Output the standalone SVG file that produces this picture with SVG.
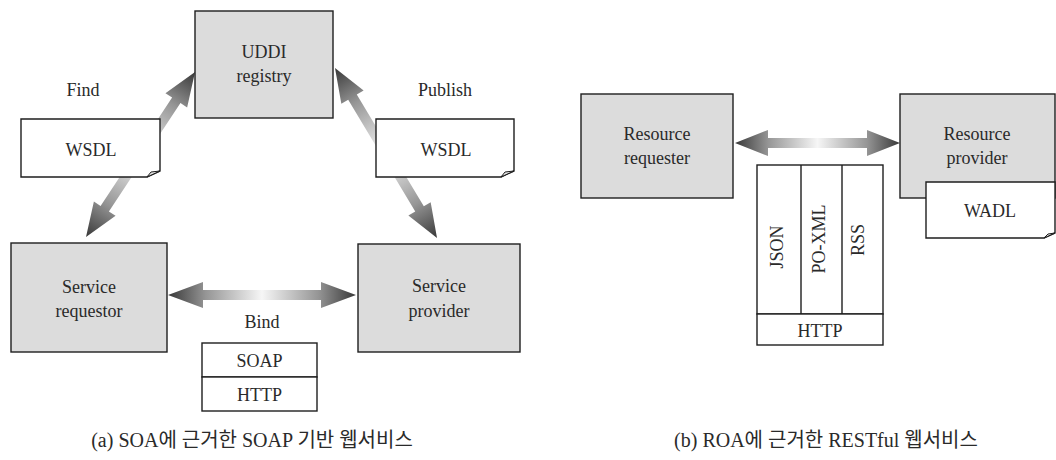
<svg xmlns="http://www.w3.org/2000/svg" width="1056" height="460" viewBox="0 0 1056 460">
<style>
text{font-family:'Liberation Serif','Noto Sans CJK KR',serif;font-size:18px;fill:#2a2a2a;text-anchor:middle}
.node{fill:#dcdcdc;stroke:#1e1e1e;stroke-width:1.4}
.doc{fill:#fff;stroke:#1e1e1e;stroke-width:1.4}
.box{fill:#fff;stroke:#1e1e1e;stroke-width:1.4}
.fold{fill:#e6e6e6;stroke:#1e1e1e;stroke-width:1}
.arr{fill:url(#g);stroke:none}
.cap{font-size:20px}
</style>
<defs>
<linearGradient id="g" x1="0" y1="0" x2="1" y2="0">
<stop offset="0" stop-color="#383838"/>
<stop offset="0.2" stop-color="#959595"/>
<stop offset="0.5" stop-color="#f6f6f6"/>
<stop offset="0.8" stop-color="#959595"/>
<stop offset="1" stop-color="#383838"/>
</linearGradient>
</defs>
<g id="connectors">
<path class="arr" transform="translate(86,237) rotate(-56.55)" d="M0,0 L34,-13 L34,-5 L163.8,-5 L163.8,-13 L197.8,0 L163.8,13 L163.8,5 L34,5 L34,13 Z"/>
<path class="arr" transform="translate(335,68) rotate(59.04)" d="M0,0 L34,-13 L34,-5 L164.3,-5 L164.3,-13 L198.3,0 L164.3,13 L164.3,5 L34,5 L34,13 Z"/>
<path class="arr" transform="translate(168,295)" d="M0,0 L35,-13 L35,-5 L153,-5 L153,-13 L188,0 L153,13 L153,5 L35,5 L35,13 Z"/>
<path class="arr" transform="translate(735,143)" d="M0,0 L33,-13 L33,-5 L132,-5 L132,-13 L165,0 L132,13 L132,5 L33,5 L33,13 Z"/>
</g>
<g id="uddi">
<rect class="node" x="195" y="11" width="138" height="107"/>
<text x="264" y="58">UDDI</text>
<text x="264" y="82">registry</text>
</g>
<g id="find-label"><text x="83" y="96">Find</text></g>
<g id="publish-label"><text x="445" y="96">Publish</text></g>
<g id="wsdl-left">
<path class="doc" d="M21,119 H160 V171 L147,177 H21 Z"/>
<path class="fold" d="M147,177 L151,172 L160,171 Z"/>
<text x="91" y="156">WSDL</text>
</g>
<g id="wsdl-right">
<path class="doc" d="M376,119 H514 V171 L501,177 H376 Z"/>
<path class="fold" d="M501,177 L505,172 L514,171 Z"/>
<text x="446" y="156">WSDL</text>
</g>
<g id="service-requestor">
<rect class="node" x="11" y="243" width="156" height="109"/>
<text x="89" y="293">Service</text>
<text x="89" y="317">requestor</text>
</g>
<g id="service-provider">
<rect class="node" x="358" y="244" width="162" height="108"/>
<text x="439" y="292">Service</text>
<text x="439" y="317">provider</text>
</g>
<g id="bind-label"><text x="262" y="328">Bind</text></g>
<g id="soap-stack">
<rect class="box" x="202" y="343" width="115" height="34"/>
<rect class="box" x="202" y="377" width="115" height="34"/>
<text x="259.5" y="367">SOAP</text>
<text x="259.5" y="401">HTTP</text>
</g>
<g id="resource-requester">
<rect class="node" x="581" y="94" width="152" height="104"/>
<text x="657" y="140">Resource</text>
<text x="657" y="164">requester</text>
</g>
<g id="resource-provider">
<rect class="node" x="900" y="94" width="155" height="104"/>
<text x="977" y="140">Resource</text>
<text x="977" y="164">provider</text>
</g>
<g id="wadl">
<path class="doc" d="M926,182 H1055 V233 L1044,238 H926 Z"/>
<path class="fold" d="M1044,238 L1048,234 L1055,233 Z"/>
<text x="990" y="217">WADL</text>
</g>
<g id="rest-stack">
<rect class="box" x="757" y="165" width="126" height="149"/>
<line x1="801" y1="165" x2="801" y2="314" stroke="#1e1e1e" stroke-width="1.4"/>
<line x1="842" y1="165" x2="842" y2="314" stroke="#1e1e1e" stroke-width="1.4"/>
<rect class="box" x="757" y="314" width="126" height="31"/>
<text transform="translate(783,247) rotate(-90)">JSON</text>
<text transform="translate(825,239) rotate(-90)">PO-XML</text>
<text transform="translate(864,240) rotate(-90)">RSS</text>
<text x="820" y="337">HTTP</text>
</g>
<g id="captions">
<text class="cap" x="252" y="447">(a) SOA에 근거한 SOAP 기반 웹서비스</text>
<text class="cap" x="826" y="447">(b) ROA에 근거한 RESTful 웹서비스</text>
</g>
</svg>
